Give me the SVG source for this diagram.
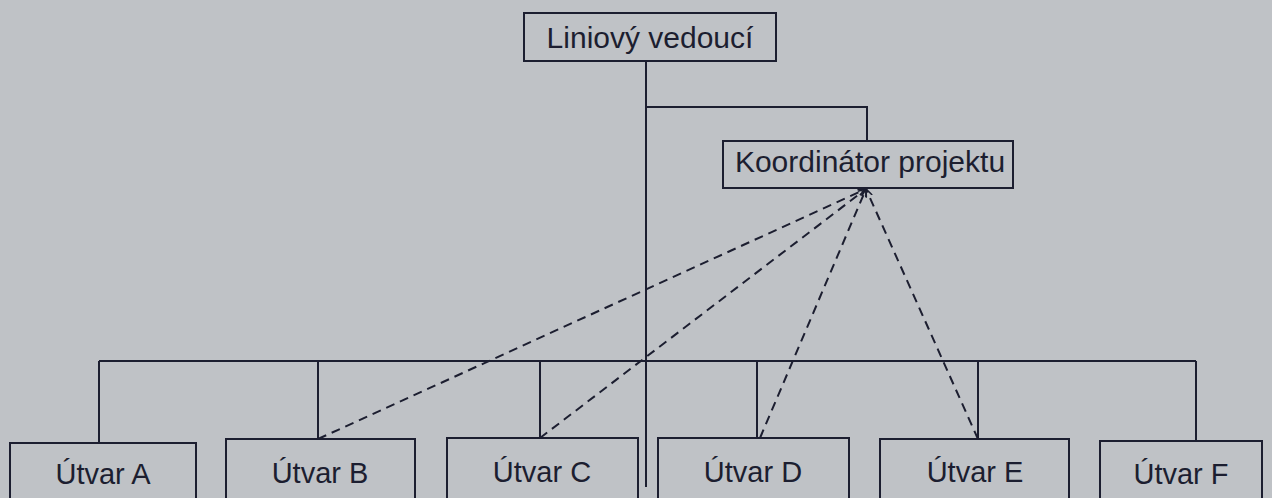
<svg xmlns="http://www.w3.org/2000/svg" width="1272" height="498" viewBox="0 0 1272 498">
  <style>
    .box { fill: none; stroke: #1c1e30; stroke-width: 2; }
    .lbl { font-family: "Liberation Sans", Arial, sans-serif; font-size: 29px; fill: #1c1e30; text-anchor: middle; }
    .lbl.top { font-size: 30px; }
    .line { fill: none; stroke: #1c1e30; stroke-width: 2; }
    .dash { fill: none; stroke: #1c1e30; stroke-width: 2; stroke-dasharray: 9 6; marker-end: url(#arrow); }
  </style>
  <defs>
    <marker id="arrow" viewBox="0 0 10 10" refX="10" refY="5" markerWidth="8" markerHeight="8" markerUnits="userSpaceOnUse" orient="auto">
      <path d="M0,1 L10,5 L0,9" fill="none" stroke="#1c1e30" stroke-width="2"/>
    </marker>
  </defs>

  <rect width="1272" height="498" fill="#bfc2c6"/>

  <g id="connectors">
    <!-- solid hierarchy lines -->
    <path class="line" d="M646,61 V487"/>
    <path class="line" d="M646,107 H867 V140"/>
    <path class="line" d="M99,361 H1196"/>
    <path class="line" d="M99,361 V443"/>
    <path class="line" d="M318,361 V439"/>
    <path class="line" d="M540,361 V438"/>
    <path class="line" d="M757,361 V438"/>
    <path class="line" d="M978,361 V439"/>
    <path class="line" d="M1196,361 V441"/>
    <!-- dashed coordination lines -->
    <path class="dash" d="M318,439 L866,189"/>
    <path class="dash" d="M540,438 L866,189"/>
    <path class="dash" d="M760,438 L866,189"/>
    <path class="dash" d="M978,439 L866,189"/>
  </g>

  <g id="liniovy-vedouci">
    <rect class="box" x="524" y="13" width="252" height="48"/>
    <text class="lbl top" x="650" y="48">Liniový vedoucí</text>
  </g>

  <g id="koordinator">
    <rect class="box" x="723" y="141" width="290" height="47"/>
    <text class="lbl top" x="870" y="172">Koordinátor projektu</text>
  </g>

  <g id="utvar-a">
    <rect class="box" x="10" y="443" width="186" height="70"/>
    <text class="lbl" x="103" y="484">Útvar A</text>
  </g>
  <g id="utvar-b">
    <rect class="box" x="226" y="439" width="189" height="70"/>
    <text class="lbl" x="320" y="483">Útvar B</text>
  </g>
  <g id="utvar-c">
    <rect class="box" x="447" y="438" width="191" height="70"/>
    <text class="lbl" x="542" y="482">Útvar C</text>
  </g>
  <g id="utvar-d">
    <rect class="box" x="658" y="438" width="191" height="70"/>
    <text class="lbl" x="753" y="482">Útvar D</text>
  </g>
  <g id="utvar-e">
    <rect class="box" x="880" y="439" width="189" height="70"/>
    <text class="lbl" x="975" y="482">Útvar E</text>
  </g>
  <g id="utvar-f">
    <rect class="box" x="1100" y="441" width="162" height="70"/>
    <text class="lbl" x="1181" y="484">Útvar F</text>
  </g>
</svg>
